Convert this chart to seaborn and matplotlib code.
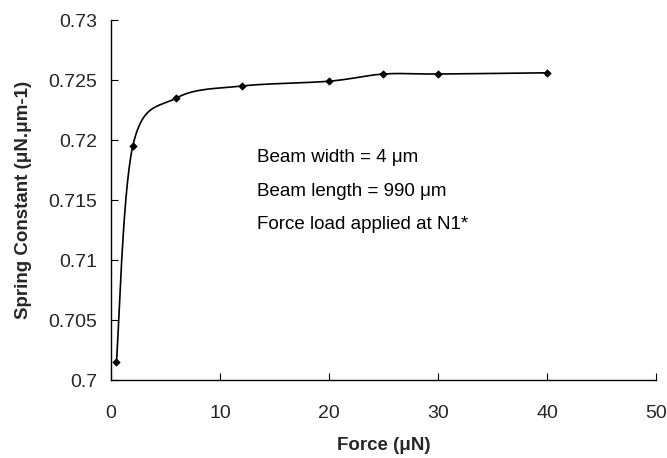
import numpy as np
import pandas as pd
import matplotlib
matplotlib.use("Agg")
import matplotlib.pyplot as plt
import seaborn as sns

force = [0.5, 2, 6, 12, 20, 25, 30, 40]
spring_constant = [0.7015, 0.7195, 0.7235, 0.7245, 0.7249, 0.7255, 0.7255, 0.7256]
x_ticks = [0, 10, 20, 30, 40, 50]
y_ticks = [0.7, 0.705, 0.71, 0.715, 0.72, 0.725, 0.73]
y_tick_labels = ["0.7", "0.705", "0.71", "0.715", "0.72", "0.725", "0.73"]
notes = ["Beam width = 4 \u03bcm", "Beam length = 990 \u03bcm", "Force load applied at N1*"]

sns.set_theme(style="ticks")
plt.rcParams["font.family"] = ["Liberation Sans", "DejaVu Sans"]

df = pd.DataFrame({"force": force, "k": spring_constant})


def smooth(xs, ys, n=30):
    # Excel-like smoothed line: Catmull-Rom style Bezier through the data points
    xs = np.asarray(xs, float)
    ys = np.asarray(ys, float)
    px = np.concatenate([[xs[0]], xs, [xs[-1]]])
    py = np.concatenate([[ys[0]], ys, [ys[-1]]])
    outx, outy = [], []
    t = np.linspace(0, 1, n)
    for i in range(1, len(px) - 2):
        p0 = np.array([px[i], py[i]])
        p3 = np.array([px[i + 1], py[i + 1]])
        p1 = p0 + (np.array([px[i + 1], py[i + 1]]) - np.array([px[i - 1], py[i - 1]])) / 6
        p2 = p3 - (np.array([px[i + 2], py[i + 2]]) - np.array([px[i], py[i]])) / 6
        b = ((1 - t) ** 3)[:, None] * p0 + (3 * (1 - t) ** 2 * t)[:, None] * p1 \
            + (3 * (1 - t) * t ** 2)[:, None] * p2 + (t ** 3)[:, None] * p3
        outx.extend(b[:, 0])
        outy.extend(b[:, 1])
    return np.array(outx), np.array(outy)


sx, sy = smooth(df["force"], df["k"])

fig = plt.figure(figsize=(6.67, 4.58), dpi=100)
ax = fig.add_axes([0.1664, 0.1703, 0.8171, 0.786])

sns.lineplot(x=sx, y=sy, ax=ax, color="black", linewidth=1.2, sort=False)
sns.scatterplot(data=df, x="force", y="k", ax=ax, color="black", marker="D", s=14,
                edgecolor="black", linewidth=0.5, zorder=3)

ax.set_xlim(0, 50)
ax.set_ylim(0.7, 0.73)
ax.set_xticks(x_ticks)
ax.set_yticks(y_ticks)
ax.set_yticklabels(y_tick_labels)
ax.tick_params(direction="in", length=5, width=0.8, labelsize=14, color="black", pad=10)
ax.tick_params(axis="x", pad=18)
for s in ["top", "right"]:
    ax.spines[s].set_visible(False)
for s in ["left", "bottom"]:
    ax.spines[s].set_color("black")
    ax.spines[s].set_linewidth(1.0)

ax.set_xlabel("Force (\u03bcN)", fontsize=13.5, fontweight="bold", labelpad=11)
ax.set_ylabel("Spring Constant (\u03bcN.\u03bcm-1)", fontsize=13.5, fontweight="bold", labelpad=12)

for i, t in enumerate(notes):
    ax.text(0.268, 0.617 - i * 0.092, t, transform=ax.transAxes, fontsize=13.5,
            ha="left", va="center", color="black")

fig.savefig("out.png", dpi=100)
